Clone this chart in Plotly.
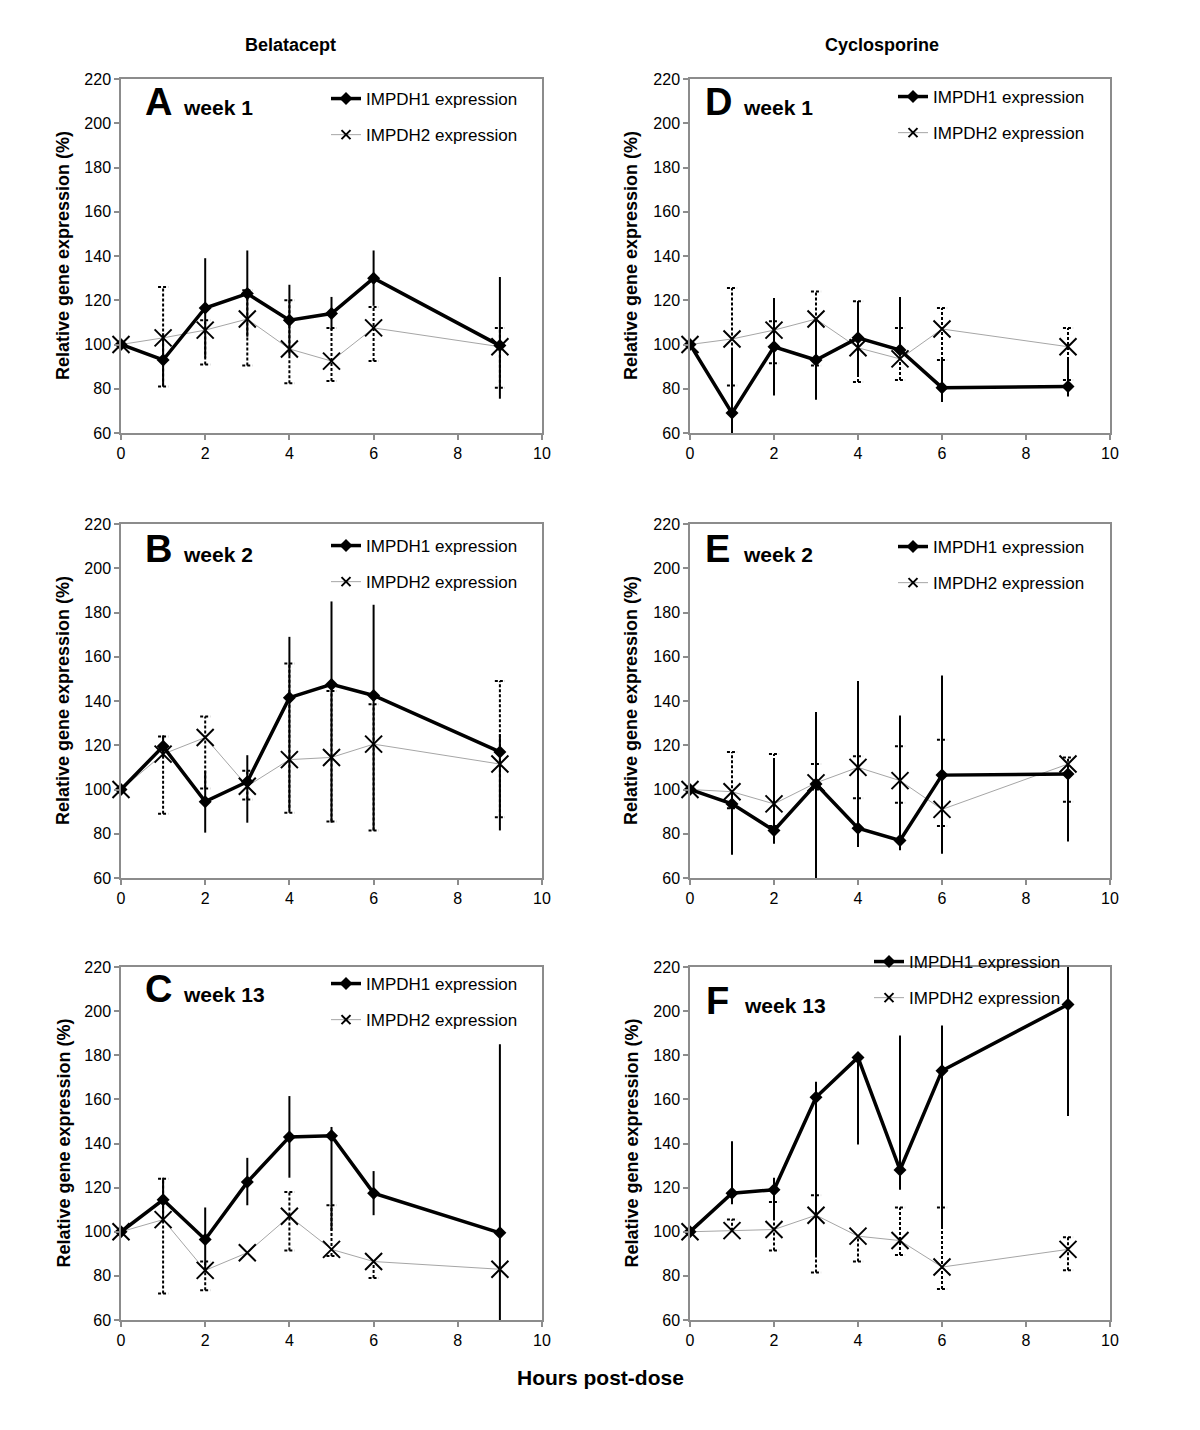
import numpy as np
import plotly.graph_objects as go
from plotly.subplots import make_subplots

hours = [0, 1, 2, 3, 4, 5, 6, 9]

# Panel A - Belatacept week 1
a_h1 = [100, 93, 116.5, 123, 111, 114, 130, 99.5]
a_h1_up = [0, 12, 22.5, 19.5, 16, 7.5, 12.5, 31]
a_h1_dn = [0, 12, 22.5, 19.5, 16, 7.5, 12.5, 24]
a_h2 = [100, 103, 106.5, 111.5, 98, 92.5, 107.5, 99]
a_h2_up = [0, 23, 4.5, 13, 22, 15, 9.5, 8.5]
a_h2_dn = [0, 22, 15.5, 21, 15.5, 9, 15, 18.5]

# Panel B - Belatacept week 2
b_h1 = [100, 119.5, 94.5, 103.5, 141.5, 147.5, 142.5, 117]
b_h1_up = [0, 5, 14, 12, 27.5, 37.5, 41, 8]
b_h1_dn = [0, 5, 14, 18.5, 51, 62.5, 61, 35.5]
b_h2 = [100, 116, 123.5, 101.5, 113.5, 114.5, 120.5, 111.5]
b_h2_up = [0, 8, 9.5, 7, 43.5, 30, 18, 37.5]
b_h2_dn = [0, 27, 23, 6, 24, 29, 39, 24]

# Panel C - Belatacept week 13
c_h1 = [100, 114.5, 96.5, 122.5, 143, 143.5, 117.5, 99.5]
c_h1_up = [0, 10, 14.5, 11, 18.5, 4, 10, 85.5]
c_h1_dn = [0, 10, 14.5, 10.5, 18.5, 43, 10, 85.5]
c_h2 = [100, 105.5, 82.5, 90.5, 107, 92, 86.5, 83]
c_h2_up = [0, 18.5, 4, 0, 11, 20, 0, 0]
c_h2_dn = [0, 33.5, 9, 0, 15.5, 3, 7.5, 0]

# Panel D - Cyclosporine week 1
d_h1 = [100, 69, 99, 93, 103, 97.5, 80.5, 81]
d_h1_up = [0, 29, 22, 18, 16.5, 24, 13, 13]
d_h1_dn = [0, 29, 22, 18, 16.5, 3, 6.5, 4.5]
d_h2 = [100, 102.5, 106.5, 111.5, 98.5, 93.5, 107, 99]
d_h2_up = [0, 23, 4, 12.5, 21, 14, 9.5, 8.5]
d_h2_dn = [0, 21, 15, 21, 15.5, 9.5, 14, 15]

# Panel E - Cyclosporine week 2
e_h1 = [100, 93.5, 81.5, 102.5, 82.5, 77, 106.5, 107]
e_h1_up = [0, 5, 31.5, 32.5, 66.5, 56.5, 45, 4]
e_h1_dn = [0, 23, 6, 42.5, 8.5, 4.5, 35.5, 30.5]
e_h2 = [100, 99, 93.5, 103, 110, 104, 91, 111.5]
e_h2_up = [0, 18, 22.5, 8.5, 5, 15.5, 31.5, 3]
e_h2_dn = [0, 7.5, 10, 3, 14, 10, 7.5, 17]

# Panel F - Cyclosporine week 13
f_h1 = [100, 117.5, 119, 161, 179, 128, 173, 203]
f_h1_up = [0, 23.5, 5.5, 7, 0, 61, 20.5, 19.5]
f_h1_dn = [0, 5, 13, 72.5, 39.5, 9, 70.5, 50.5]
f_h2 = [100, 100.5, 101, 107.5, 98, 96, 84, 92]
f_h2_up = [0, 5, 12.5, 9, 0, 15, 27, 5.5]
f_h2_dn = [0, 0, 9.5, 26, 11.5, 6.5, 10, 9.5]

column_titles = ["Belatacept", "Cyclosporine"]
x_title = "Hours post-dose"
y_title = "Relative gene expression (%)"
legend_names = ["IMPDH1 expression", "IMPDH2 expression"]
y_min, y_max = 60, 220

# page has an 8px body margin: figure is sized so page == window
OFF = 8
W, H = 1200 - 2 * OFF, 1430 - 2 * OFF


def px(x):
    return (x - OFF) / W


def py(y):
    return 1 - (y - OFF) / H


panels = [
    dict(letter="A", week="week 1", row=1, col=1, h1=a_h1, h1u=a_h1_up, h1d=a_h1_dn,
         h2=a_h2, h2u=a_h2_up, h2d=a_h2_dn, leg=(326, 91), lab=(143, 102)),
    dict(letter="D", week="week 1", row=1, col=2, h1=d_h1, h1u=d_h1_up, h1d=d_h1_dn,
         h2=d_h2, h2u=d_h2_up, h2d=d_h2_dn, leg=(893, 89), lab=(703, 102)),
    dict(letter="B", week="week 2", row=2, col=1, h1=b_h1, h1u=b_h1_up, h1d=b_h1_dn,
         h2=b_h2, h2u=b_h2_up, h2d=b_h2_dn, leg=(326, 538), lab=(143, 549)),
    dict(letter="E", week="week 2", row=2, col=2, h1=e_h1, h1u=e_h1_up, h1d=e_h1_dn,
         h2=e_h2, h2u=e_h2_up, h2d=e_h2_dn, leg=(893, 539), lab=(703, 549)),
    dict(letter="C", week="week 13", row=3, col=1, h1=c_h1, h1u=c_h1_up, h1d=c_h1_dn,
         h2=c_h2, h2u=c_h2_up, h2d=c_h2_dn, leg=(326, 976), lab=(143, 989)),
    dict(letter="F", week="week 13", row=3, col=2, h1=f_h1, h1u=f_h1_up, h1d=f_h1_dn,
         h2=f_h2, h2u=f_h2_up, h2d=f_h2_dn, leg=(869, 954), lab=(704, 1001)),
]

col_x = {1: (121, 542), 2: (690, 1110)}
row_y = {1: (79, 433), 2: (524, 878), 3: (967, 1320)}

FONT = "Liberation Sans, Arial, Helvetica, sans-serif"

fig = make_subplots(rows=3, cols=2)


def dotted_segments(x, v, up, dn, cap=0.12):
    xs, ys = [], []
    for xi, vi, ui, di in zip(x, v, up, dn):
        lo = max(vi - di, y_min)
        hi = min(vi + ui, y_max)
        if hi - lo <= 0:
            continue
        xs += [xi, xi, None]
        ys += [lo, hi, None]
        if ui > 0:
            xs += [xi - cap, xi + cap, None]
            ys += [hi, hi, None]
        if di > 0 and vi - di >= y_min:
            xs += [xi - cap, xi + cap, None]
            ys += [lo, lo, None]
    return xs, ys


annotations = []
for i, p in enumerate(panels):
    r, c = p["row"], p["col"]
    legname = "legend" if i == 0 else f"legend{i + 1}"
    h1 = np.array(p["h1"], float)
    up1 = np.minimum(np.array(p["h1u"], float), y_max - h1)
    dn1 = np.minimum(np.array(p["h1d"], float), h1 - y_min)

    fig.add_trace(go.Scatter(
        x=hours, y=p["h2"], mode="lines", showlegend=False,
        line=dict(color="#a6a6a6", width=1), hoverinfo="skip"), row=r, col=c)
    ex, ey = dotted_segments(hours, p["h2"], p["h2u"], p["h2d"])
    fig.add_trace(go.Scatter(
        x=ex, y=ey, mode="lines", showlegend=False,
        line=dict(color="black", width=2, dash="3px,2px"), hoverinfo="skip"), row=r, col=c)
    fig.add_trace(go.Scatter(
        x=hours, y=p["h2"], mode="markers", showlegend=False, cliponaxis=False,
        marker=dict(symbol="x-thin-open", size=17, color="black",
                    line=dict(width=2, color="black"))), row=r, col=c)

    fig.add_trace(go.Scatter(
        x=hours, y=p["h1"], mode="lines+markers", showlegend=False, cliponaxis=False,
        line=dict(color="black", width=3.5),
        marker=dict(symbol="diamond", size=10, color="black"),
        error_y=dict(type="data", symmetric=False, array=up1, arrayminus=dn1,
                     color="black", thickness=2, width=0)), row=r, col=c)

    fig.add_trace(go.Scatter(
        x=[None], y=[None], mode="lines+markers", name=legend_names[0],
        legend=legname, legendgroup=f"g1_{i}",
        line=dict(color="black", width=3.5),
        marker=dict(symbol="diamond", size=10, color="black")), row=r, col=c)
    fig.add_trace(go.Scatter(
        x=[None], y=[None], mode="lines+markers", name=legend_names[1],
        legend=legname, legendgroup=f"g2_{i}",
        line=dict(color="#a6a6a6", width=1),
        marker=dict(symbol="x-thin-open", size=9, color="black",
                    line=dict(width=2, color="black"))), row=r, col=c)

    lx, ly = p["leg"]
    fig.update_layout(**{legname: dict(
        x=px(lx), y=py(ly - 10), xanchor="left", yanchor="top",
        bgcolor="rgba(0,0,0,0)", borderwidth=0, tracegroupgap=11,
        traceorder="grouped", itemwidth=30,
        font=dict(family=FONT, size=17, color="black"))})

    ax, ay = p["lab"]
    annotations.append(dict(
        text=f"<b>{p['letter']}</b>", x=px(ax), y=py(ay), xref="paper", yref="paper",
        xanchor="left", yanchor="middle", showarrow=False,
        font=dict(family=FONT, size=38, color="black")))
    annotations.append(dict(
        text=f"<b>{p['week']}</b>", x=px(ax + 38), y=py(ay + 5),
        xref="paper", yref="paper", xanchor="left", yanchor="middle", showarrow=False,
        font=dict(family=FONT, size=21, color="black")))

axis_common = dict(
    showgrid=False, zeroline=False, showline=True, linecolor="#8c8c8c", linewidth=1.5,
    mirror=True, ticks="outside", ticklen=5, tickcolor="#8c8c8c", tickwidth=1.5,
    automargin=False,
    tickfont=dict(family=FONT, size=16, color="black"))

for idx in range(6):
    r = idx // 2 + 1
    c = idx % 2 + 1
    x0, x1 = col_x[c]
    y0, y1 = row_y[r]
    sx = "" if idx == 0 else str(idx + 1)
    fig.update_layout(**{
        f"xaxis{sx}": dict(axis_common, range=[0, 10], dtick=2, tick0=0,
                           domain=[px(x0), px(x1)]),
        f"yaxis{sx}": dict(axis_common, range=[y_min, y_max], dtick=20, tick0=60,
                           domain=[py(y1), py(y0)]),
    })

for ct, cx in zip(column_titles, [290, 882]):
    annotations.append(dict(
        text=f"<b>{ct}</b>", x=px(cx), y=py(45), xref="paper", yref="paper",
        xanchor="center", yanchor="middle", showarrow=False,
        font=dict(family=FONT, size=18, color="black")))

for r in (1, 2, 3):
    y0, y1 = row_y[r]
    for tx in (63, 631):
        annotations.append(dict(
            text=f"<b>{y_title}</b>", x=px(tx), y=py((y0 + y1) / 2),
            xref="paper", yref="paper", xanchor="center", yanchor="middle",
            textangle=-90, showarrow=False,
            font=dict(family=FONT, size=18, color="black")))

annotations.append(dict(
    text=f"<b>{x_title}</b>", x=px(600), y=py(1377), xref="paper", yref="paper",
    xanchor="center", yanchor="middle", showarrow=False,
    font=dict(family=FONT, size=21, color="black")))

fig.update_layout(
    width=W, height=H, margin=dict(l=0, r=0, t=0, b=0, autoexpand=False),
    paper_bgcolor="white", plot_bgcolor="white",
    font=dict(family=FONT, color="black"),
    annotations=annotations,
)

fig.write_html("out.html")
